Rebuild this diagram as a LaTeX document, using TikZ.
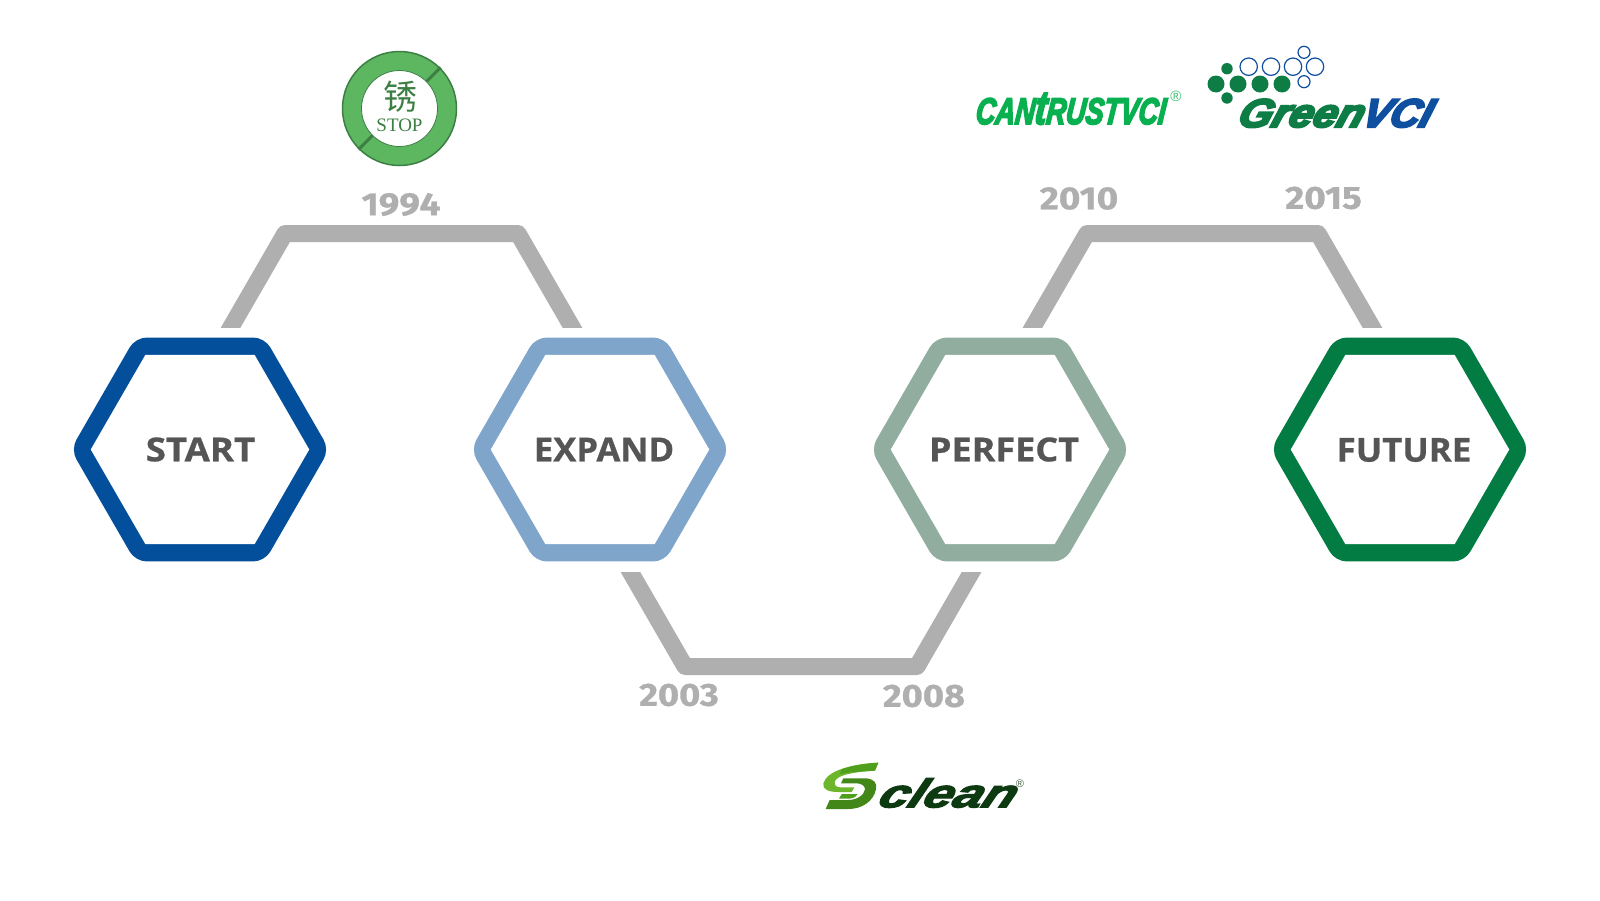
\documentclass[tikz,border=0pt]{standalone}
\usepackage{fontspec}
\usetikzlibrary{shapes.geometric,calc}
\setmainfont{Open Sans}
\newfontfamily\hexfont[FakeBold=.7]{Open Sans}
\newfontfamily\numfont[FakeBold=.8,Numbers=Lining]{Fira Sans}
\newfontfamily\cjkfont{Noto Sans CJK SC}
\newfontfamily\stopfont{Liberation Serif}
\newfontfamily\regfont{Liberation Sans}
\newfontfamily\logofont[FakeBold=5,FakeSlant=.14]{Liberation Sans}
\newfontfamily\greenfont[FakeBold=5.5,FakeSlant=.3]{Liberation Sans}
\newfontfamily\cleanfont[FakeBold=3,FakeSlant=.32]{Liberation Sans}
\definecolor{hexstart}{HTML}{034F9C}
\definecolor{hexexpand}{HTML}{7FA5CB}
\definecolor{hexperfect}{HTML}{90AD9F}
\definecolor{hexfuture}{HTML}{037C43}
\definecolor{linkgray}{HTML}{AFAFAF}
\definecolor{txtgray}{HTML}{555555}
\definecolor{stopgreen}{HTML}{5DB761}
\definecolor{stopdark}{HTML}{3B7F42}
\definecolor{cantrust}{HTML}{08B04F}
\definecolor{gvgreen}{HTML}{0D7C45}
\definecolor{gvblue}{HTML}{0F4FA0}
\definecolor{scdark}{HTML}{0E3A12}
\definecolor{scgreen}{HTML}{4F9F1C}
\definecolor{sclight}{HTML}{6DB52B}
\tikzset{
 hexouter/.style={regular polygon,regular polygon sides=6,minimum size=258.5pt,inner sep=0pt,outer sep=0pt,
   rounded corners=11pt,fill=#1},
 hexinner/.style={regular polygon,regular polygon sides=6,minimum size=218.5pt,inner sep=0pt,outer sep=0pt,fill=white},
 hexlabel/.style={inner sep=0pt,text=txtgray,font=\hexfont\bfseries\fontsize{33}{33}\selectfont},
 link/.style={draw=linkgray,line width=17pt,line join=round},
 yearlabel/.style={text=linkgray,inner sep=0pt,font=\numfont\bfseries\fontsize{32}{32}\selectfont},
 greendot/.style={circle,fill=gvgreen,inner sep=0pt,minimum size=#1},
 bluedot/.style={circle,draw=gvblue,line width=1.2pt,fill=white,inner sep=0pt,minimum size=#1},
 logotext/.style={anchor=base west,inner sep=0pt,outer sep=0pt}
}
\begin{document}
\begin{tikzpicture}[x=1pt,y=-1pt]
\useasboundingbox[fill=white] (0,0) rectangle (1600,900);
% hexagons
\node[hexouter=hexstart]   (start)   at (200,449.5)  {};
\node[hexouter=hexexpand]  (expand)  at (600,449.5)  {};
\node[hexouter=hexperfect] (perfect) at (1000,449.5) {};
\node[hexouter=hexfuture]  (future)  at (1400,449.5) {};
\node[hexinner] (startin)   at (start)   {};
\node[hexinner] (expandin)  at (expand)  {};
\node[hexinner] (perfectin) at (perfect) {};
\node[hexinner] (futurein)  at (future)  {};
\node[hexlabel] (startlab)   at ($(start)+(0.5,0)$)   {\scalebox{1.11}[1]{START}};
\node[hexlabel] (expandlab)  at ($(expand)+(4,0)$)  {\scalebox{1.05}[1]{EXPAND}};
\node[hexlabel] (perfectlab) at ($(perfect)+(4,0)$) {\scalebox{1.09}[1]{PERFECT}};
\node[hexlabel] (futurelab)  at ($(future)+(4,0.5)$)  {\scalebox{1.057}[1]{FUTURE}};
% connector anchors
\coordinate (a1) at ($(start)+(20.6,-104.5)$);
\coordinate (a2) at (285,233.5);
\coordinate (a3) at (518,233.5);
\coordinate (a4) at ($(expand)+(-17.6,-104.5)$);
\coordinate (b1) at ($(expand)+(20.6,105.5)$);
\coordinate (b2) at (685,666.5);
\coordinate (b3) at (917,666.5);
\coordinate (b4) at ($(perfect)+(-18.6,105.5)$);
\coordinate (c1) at ($(perfect)+(22.5,-104.5)$);
\coordinate (c2) at (1087,233.5);
\coordinate (c3) at (1318,233.5);
\coordinate (c4) at ($(future)+(-17.6,-104.5)$);
\begin{scope}
\clip (0,0) rectangle (1600,327);
\draw[link] (a1) -- (a2) -- (a3) -- (a4);
\draw[link] (c1) -- (c2) -- (c3) -- (c4);
\end{scope}
\begin{scope}
\clip (0,572.7) rectangle (1600,900);
\draw[link] (b1) -- (b2) -- (b3) -- (b4);
\end{scope}
% years
\node[yearlabel] (y1994) at (401,204.5) {\scalebox{1.15}[1]{1994}};
\node[yearlabel] (y2003) at (679,695) {\scalebox{1.13}[1]{2003}};
\node[yearlabel] (y2008) at (924,696) {\scalebox{1.13}[1]{2008}};
\node[yearlabel] (y2010) at (1079,198.5) {\scalebox{1.15}[1]{2010}};
\node[yearlabel] (y2015) at (1323.5,198) {\scalebox{1.15}[1]{2015}};
% STOP logo
\node[circle,draw=stopdark,line width=1.5pt,fill=stopgreen,inner sep=0pt,minimum size=114pt] (stopring) at (399.5,108.5) {};
\draw[stopdark,line width=3pt] ($(stopring)+(26,-26)$) -- ($(stopring)+(41,-41)$);
\draw[stopdark,line width=3pt] ($(stopring)+(-26,26)$) -- ($(stopring)+(-41,41)$);
\node[circle,draw=stopdark,line width=.8pt,fill=white,inner sep=0pt,minimum size=76pt] (stopcore) at (399.5,108.5) {};
\node[inner sep=0pt,text=stopdark,font=\cjkfont\fontsize{34}{34}\selectfont] (stopchar) at (400,97) {锈};
\node[inner sep=0pt,text=stopdark,font=\stopfont\fontsize{19}{19}\selectfont] (stoptxt) at (399.5,125) {STOP};
% CANTRUST logo
\node[logotext,text=cantrust,font=\logofont\bfseries\itshape] (cantrust) at (975,124) {\fontsize{37}{37}\selectfont\scalebox{.735}[1]{CAN{\fontsize{47}{47}\selectfont t}RUSTVCI}};
\node[inner sep=0pt,text=cantrust!80!white,font=\regfont\fontsize{15}{15}\selectfont] (cantrustr) at (1176,96) {®};
% GreenVCI logo
\node[greendot=11.4pt] (g1) at (1227,68.7) {};
\node[greendot=17pt] (g2) at (1216,84) {};
\node[greendot=17pt] (g3) at (1238,84) {};
\node[greendot=17pt] (g4) at (1260,84) {};
\node[greendot=17pt] (g5) at (1282,84) {};
\node[greendot=11.4pt] (g6) at (1227,98) {};
\node[bluedot=17.4pt] (o1) at (1248.7,66.7) {};
\node[bluedot=17.4pt] (o2) at (1271,66.7) {};
\node[bluedot=17.4pt] (o3) at (1293,66.7) {};
\node[bluedot=17.4pt] (o4) at (1315,66.7) {};
\node[bluedot=12pt] (o5) at (1304,52.3) {};
\node[bluedot=12pt] (o6) at (1304,81.7) {};
\node[logotext,text=gvgreen,font=\greenfont\bfseries\itshape] (green) at (1236,127) {\fontsize{40}{40}\selectfont\scalebox{1.08}[1]{Green}};
\node[logotext,text=gvblue,font=\greenfont\bfseries\itshape] (vci) at (1360,127) {\fontsize{40}{40}\selectfont\scalebox{1.03}[1]{VCI}};
% Sclean logo
\begin{scope}[shift={(815,750)},x=.3333pt,y=-.3333pt]
\fill[sclight] (190,38) .. controls (110,42) and (35,62) .. (25,100) .. controls (22,118) and (40,126) .. (70,126)
  -- (110,126) -- (118,112) -- (75,112) .. controls (60,112) and (55,100) .. (62,90)
  .. controls (75,72) and (130,65) .. (180,62) -- cycle;
\fill[scgreen] (190,38) .. controls (150,40) and (110,47) .. (80,58) -- (75,72) .. controls (105,66) and (145,64) .. (180,62) -- cycle;
\fill[scgreen!85!black] (85,85) -- (150,85) .. controls (175,85) and (188,98) .. (183,118)
  .. controls (175,155) and (140,177) .. (100,177) -- (32,177) -- (44,150) -- (100,150)
  .. controls (125,150) and (148,135) .. (150,118) .. controls (150,108) and (140,100) .. (125,100) -- (78,100) -- cycle;
\fill[scgreen] (80,132) -- (128,132) .. controls (122,142) and (112,146) .. (100,146) -- (72,146) -- cycle;
\end{scope}
\node[logotext,text=scdark,font=\cleanfont\bfseries\itshape] (clean) at (876,807.3) {\fontsize{40}{40}\selectfont\scalebox{1.33}[1]{clean}};
\node[inner sep=0pt,text=scdark!80!white,font=\regfont\fontsize{11}{11}\selectfont] (cleanr) at (1020,784) {®};
\end{tikzpicture}
\end{document}
